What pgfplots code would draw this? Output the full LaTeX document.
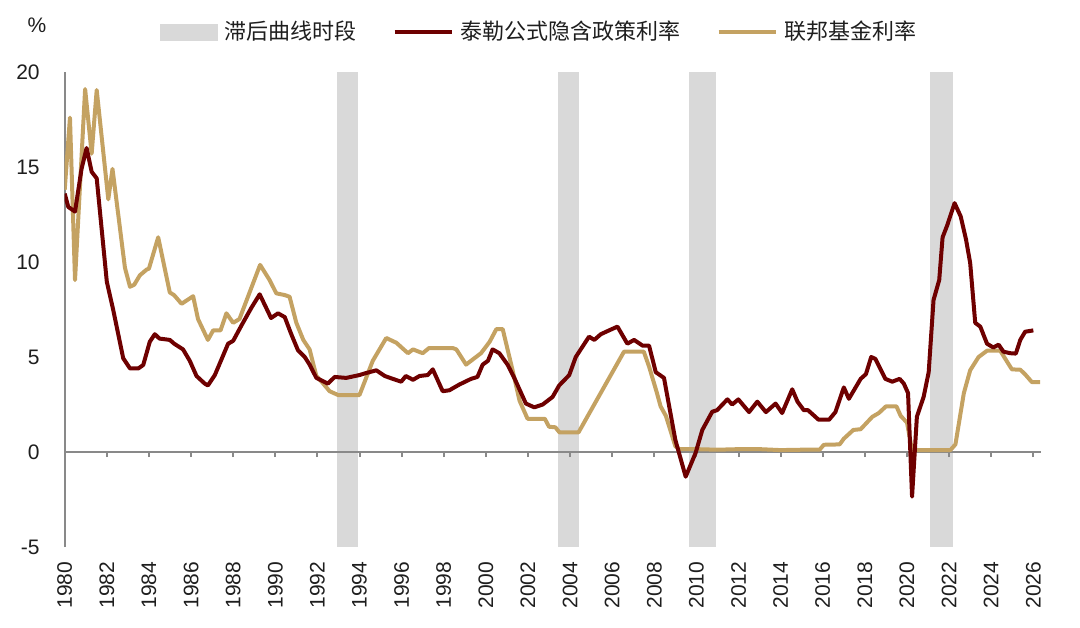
\documentclass[border=0pt]{standalone}
\usepackage{pgfplots}
\pgfplotsset{compat=1.18}
\usepackage{fontspec}
\setmainfont{Liberation Sans}
\newfontfamily\cjk{Noto Sans CJK SC}
\definecolor{taylor}{RGB}{110,0,0}
\definecolor{ffr}{RGB}{196,162,98}
\definecolor{band}{RGB}{217,217,217}
\definecolor{axgray}{RGB}{137,137,137}
\definecolor{txt}{RGB}{30,30,30}

\pgfplotsset{common/.style={
  at={(0,0)}, anchor=south west,
  scale only axis, width=488pt, height=237.5pt,
  xmin=1980, xmax=2026.35, ymin=-5, ymax=20,
  xtick={1980,1982,...,2026},
  /pgf/number format/assume math mode=true,
  /pgf/number format/1000 sep={},
  tick label style={font=\fontsize{10.5}{12}\selectfont, text=txt},
}}

\begin{document}
\begin{tikzpicture}
\useasboundingbox (-32.35pt,-40pt) rectangle (507.65pt,273.5pt);
% background axis: shaded periods, year labels and the % unit
\begin{axis}[
  common, clip=false,
  axis x line*=bottom, axis y line*=left,
  axis line style={draw=none},
  ytick=\empty,
  xtick style={draw=none},
  xticklabel style={yshift=-3.8pt, rotate=90, anchor=east},
]
\addplot[fill=band, draw=none] coordinates {(1992.93,-5) (1992.93,20) (1993.93,20) (1993.93,-5)} -- cycle;
\addplot[fill=band, draw=none] coordinates {(2003.45,-5) (2003.45,20) (2004.44,20) (2004.44,-5)} -- cycle;
\addplot[fill=band, draw=none] coordinates {(2009.65,-5) (2009.65,20) (2010.92,20) (2010.92,-5)} -- cycle;
\addplot[fill=band, draw=none] coordinates {(2021.10,-5) (2021.10,20) (2022.17,20) (2022.17,-5)} -- cycle;
\node[font=\fontsize{10.5}{12}\selectfont, text=txt] at (axis description cs:-0.0284,1.099) {\%};
\end{axis}

% main axis
\begin{axis}[
  common,
  axis x line*=middle, axis y line*=left,
  x axis line style={axgray, line width=1pt},
  y axis line style={axgray, line width=1pt},
  xticklabels={},
  ytick={-5,0,5,10,15,20},
  xtick style={axgray, line width=1pt},
  tick align=outside, major tick length=2.5pt,
  ytick style={draw=none},
  yticklabel style={xshift=-6.5pt},
  legend style={at={(0.4873,1.084)}, anchor=center, draw=none, fill=none,
    font=\cjk\fontsize{11}{13}\selectfont, text=txt, inner sep=0pt,
    /tikz/every odd column/.append style={column sep=1.5pt},
    /tikz/every even column/.append style={column sep=16pt}},
  legend columns=3,
]
% Fed funds rate
\addplot[ffr, line width=2pt, line join=round, forget plot] coordinates {
(1980.00,13.8) (1980.25,17.6) (1980.49,9.05) (1980.97,19.1) (1981.28,15.7) (1981.52,19.05)
(1982.07,13.3) (1982.27,14.9) (1982.86,9.7) (1983.10,8.7) (1983.30,8.8) (1983.57,9.3)
(1983.89,9.6) (1984.00,9.65) (1984.44,11.3) (1984.99,8.4) (1985.20,8.25) (1985.55,7.8)
(1986.10,8.2) (1986.33,7.0) (1986.80,5.9) (1987.05,6.4) (1987.40,6.4) (1987.68,7.3)
(1988.00,6.8) (1988.30,7.0) (1989.28,9.85) (1989.73,9.05) (1990.05,8.35) (1990.45,8.26)
(1990.68,8.17) (1991.00,6.8) (1991.33,5.9) (1991.63,5.4) (1991.95,4.0) (1992.20,3.7)
(1992.58,3.2) (1992.98,3.0) (1993.85,3.0) (1994.00,3.0) (1994.63,4.8) (1995.27,6.0)
(1995.75,5.75) (1996.30,5.2) (1996.54,5.4) (1997.00,5.2) (1997.30,5.47) (1998.43,5.47)
(1998.60,5.4) (1999.06,4.6) (1999.77,5.2) (2000.18,5.8) (2000.50,6.47) (2000.80,6.47)
(2001.27,4.3) (2001.60,2.7) (2001.98,1.75) (2002.80,1.75) (2003.00,1.33) (2003.30,1.3)
(2003.50,1.03) (2004.40,1.03) (2006.56,5.28) (2007.50,5.28) (2007.75,4.5) (2008.10,3.2)
(2008.30,2.4) (2008.55,1.9) (2009.00,0.3) (2009.20,0.15) (2010.00,0.15) (2011.00,0.12)
(2012.00,0.15) (2013.00,0.15) (2014.00,0.1) (2015.00,0.12) (2015.85,0.12) (2016.05,0.38)
(2016.80,0.4) (2017.00,0.7) (2017.45,1.16) (2017.80,1.2) (2018.35,1.85) (2018.66,2.05)
(2019.00,2.4) (2019.50,2.4) (2019.70,1.9) (2020.00,1.55) (2020.24,0.1) (2022.06,0.1)
(2022.30,0.4) (2022.70,3.1) (2023.00,4.3) (2023.40,5.0) (2023.80,5.33) (2024.43,5.33)
(2024.67,4.9) (2024.98,4.35) (2025.38,4.33) (2025.60,4.1) (2025.93,3.68) (2026.32,3.68)
};

% Taylor rule implied rate
\addplot[taylor, line width=2pt, line join=round, forget plot] coordinates {
(1980.00,13.6) (1980.17,12.9) (1980.49,12.65) (1980.80,14.9) (1981.04,16.0) (1981.28,14.75)
(1981.52,14.4) (1982.00,8.96) (1982.30,7.5) (1982.78,4.93) (1983.10,4.4) (1983.50,4.4)
(1983.73,4.58) (1984.04,5.8) (1984.28,6.2) (1984.50,5.97) (1984.99,5.9) (1985.20,5.7)
(1985.62,5.4) (1985.94,4.8) (1986.26,4.0) (1986.65,3.6) (1986.80,3.5) (1987.13,4.05)
(1987.36,4.65) (1987.76,5.7) (1988.00,5.85) (1988.39,6.65) (1988.87,7.6) (1989.26,8.3)
(1989.80,7.05) (1990.13,7.3) (1990.45,7.1) (1990.76,6.2) (1991.08,5.35) (1991.40,5.0)
(1991.63,4.6) (1991.95,3.9) (1992.50,3.6) (1992.82,3.95) (1993.37,3.9) (1994.00,4.05)
(1994.23,4.13) (1994.80,4.3) (1995.20,4.0) (1995.58,3.85) (1995.98,3.7) (1996.20,4.0)
(1996.54,3.8) (1996.85,4.0) (1997.24,4.05) (1997.48,4.35) (1997.95,3.2) (1998.27,3.25)
(1998.74,3.55) (1999.30,3.85) (1999.60,3.95) (1999.85,4.6) (2000.10,4.8) (2000.32,5.4)
(2000.64,5.2) (2001.03,4.6) (2001.35,3.9) (2001.90,2.55) (2002.30,2.35) (2002.70,2.5)
(2003.17,2.9) (2003.48,3.5) (2003.96,4.05) (2004.27,5.0) (2004.90,6.07) (2005.15,5.9)
(2005.46,6.2) (2005.85,6.4) (2006.25,6.6) (2006.72,5.7) (2007.04,5.9) (2007.44,5.6)
(2007.75,5.6) (2008.07,4.2) (2008.46,3.9) (2009.00,0.63) (2009.49,-1.3) (2009.96,-0.05)
(2010.28,1.16) (2010.75,2.12) (2010.98,2.2) (2011.47,2.77) (2011.70,2.5) (2011.99,2.77)
(2012.50,2.1) (2012.89,2.65) (2013.30,2.1) (2013.76,2.55) (2014.07,2.05) (2014.55,3.3)
(2014.80,2.65) (2015.10,2.2) (2015.30,2.2) (2015.80,1.7) (2016.30,1.7) (2016.60,2.1)
(2017.00,3.4) (2017.24,2.8) (2017.80,3.85) (2018.05,4.1) (2018.30,5.0) (2018.50,4.9)
(2018.97,3.85) (2019.30,3.7) (2019.65,3.85) (2019.85,3.6) (2020.05,3.1) (2020.24,-2.35)
(2020.47,1.86) (2020.79,2.9) (2021.03,4.2) (2021.26,8.0) (2021.53,9.05) (2021.69,11.3)
(2021.90,11.9) (2022.26,13.1) (2022.55,12.4) (2022.80,11.2) (2023.00,9.95) (2023.24,6.8)
(2023.48,6.6) (2023.80,5.7) (2024.10,5.5) (2024.35,5.65) (2024.58,5.28) (2024.90,5.2)
(2025.17,5.18) (2025.38,5.9) (2025.61,6.33) (2026.00,6.4)
};

% legend
\addlegendimage{legend image code/.code={\fill[band] (0pt,-4pt) rectangle (28.5pt,4pt);}}
\addlegendentry{滞后曲线时段}
\addlegendimage{legend image code/.code={\draw[taylor, line width=2pt] (0pt,0pt) -- (28.5pt,0pt);}}
\addlegendentry{泰勒公式隐含政策利率}
\addlegendimage{legend image code/.code={\draw[ffr, line width=2pt] (0pt,0pt) -- (28.5pt,0pt);}}
\addlegendentry{联邦基金利率}
\end{axis}
\end{tikzpicture}
\end{document}
